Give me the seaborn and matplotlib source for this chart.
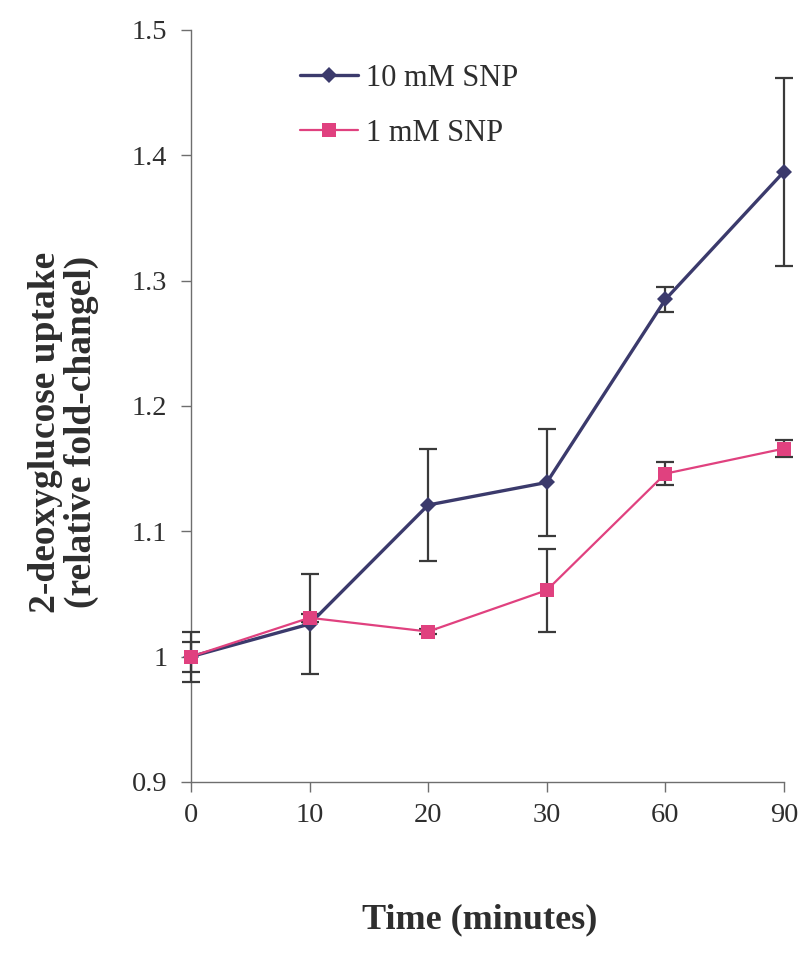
import numpy as np
import pandas as pd
import matplotlib
matplotlib.use("Agg")
import matplotlib.pyplot as plt
import seaborn as sns

# Time points (minutes) and 2-deoxyglucose uptake for the two SNP doses
time_labels = ["0", "10", "20", "30", "60", "90"]
snp10_mean = [1.000, 1.026, 1.121, 1.139, 1.285, 1.387]
snp10_err = [0.020, 0.040, 0.045, 0.043, 0.010, 0.075]
snp1_mean = [1.000, 1.031, 1.020, 1.053, 1.146, 1.166]
snp1_err = [0.012, 0.003, 0.002, 0.033, 0.009, 0.007]
series_names = ["10 mM SNP", "1 mM SNP"]
y_ticks = [0.9, 1.0, 1.1, 1.2, 1.3, 1.4, 1.5]
y_tick_labels = ["0.9", "1", "1.1", "1.2", "1.3", "1.4", "1.5"]

sns.set_theme(style="white")
plt.rcParams["font.family"] = ["Liberation Serif", "DejaVu Serif"]

navy = "#3b3a6c"
pink = "#e0417f"
text_col = "#2e2e2e"

pos = np.arange(len(time_labels))
df = pd.DataFrame({
    "pos": np.concatenate([pos, pos]),
    "uptake": snp10_mean + snp1_mean,
    "err": snp10_err + snp1_err,
    "series": [series_names[0]] * len(pos) + [series_names[1]] * len(pos),
})

fig = plt.figure(figsize=(7.98, 9.55), dpi=100)
ax = fig.add_axes([0.2393, 0.1812, 0.7432, 0.7874])

# error bars first so the lines and markers sit on top
for name in series_names:
    sub = df[df["series"] == name]
    cont = ax.errorbar(sub["pos"], sub["uptake"], yerr=sub["err"], fmt="none",
                       ecolor="#3a3a3a", elinewidth=1.6, capsize=6.5,
                       capthick=1.6, zorder=2)
    for art in cont.lines[1] + cont.lines[2]:
        art.set_clip_on(False)
    for coll in cont.lines[2]:
        coll.set_clip_on(False)

sns.lineplot(data=df, x="pos", y="uptake", hue="series", style="series",
             hue_order=series_names, style_order=series_names,
             palette={series_names[0]: navy, series_names[1]: pink},
             markers={series_names[0]: "D", series_names[1]: "s"},
             dashes=False, size="series",
             sizes={series_names[0]: 2.4, series_names[1]: 1.6},
             markersize=9, markeredgewidth=0, ax=ax, zorder=3)

# diamond slightly smaller than the square; let marks at the edges overhang
for line in ax.lines:
    line.set_clip_on(False)
    if line.get_marker() == "D":
        line.set_markersize(8.5)
    elif line.get_marker() == "s":
        line.set_markersize(10)

ax.set_xlim(0, len(time_labels) - 1)
ax.set_ylim(0.9, 1.5)
ax.set_xticks(pos)
ax.set_xticklabels(time_labels)
ax.set_yticks(y_ticks)
ax.set_yticklabels(y_tick_labels)

for side in ("top", "right"):
    ax.spines[side].set_visible(False)
for side in ("left", "bottom"):
    ax.spines[side].set_color("#6e6e6e")
    ax.spines[side].set_linewidth(1.0)
    ax.spines[side].set_zorder(1)

ax.tick_params(axis="both", which="major", direction="out", length=7,
               width=1.0, color="#6e6e6e", labelsize=20.5, labelcolor=text_col,
               pad=8, left=True, bottom=True)
ax.tick_params(axis="y", pad=10)

ax.set_xlabel("Time (minutes)", fontsize=26, fontweight="bold",
              color=text_col, va="center")
ax.xaxis.set_label_coords(0.487, -0.184)
ax.set_ylabel("2-deoxyglucose uptake\n(relative fold-changel)", fontsize=27,
              fontweight="bold", color=text_col, va="center",
              linespacing=1.0)
ax.yaxis.set_label_coords(-0.215, 0.465)

handles, labels = ax.get_legend_handles_labels()
for h in handles:
    if h.get_marker() == "D":
        h.set_markersize(8.5)
    elif h.get_marker() == "s":
        h.set_markersize(10)
leg = ax.legend(handles, labels, loc="upper left",
                bbox_to_anchor=(0.376, 1 - 64 / 955),
                bbox_transform=fig.transFigure, frameon=False,
                fontsize=22, handlelength=1.9, handletextpad=0.25,
                labelspacing=0.85, borderpad=0, borderaxespad=0)
for t in leg.get_texts():
    t.set_color(text_col)

fig.savefig("out.png", dpi=100, facecolor="white")
